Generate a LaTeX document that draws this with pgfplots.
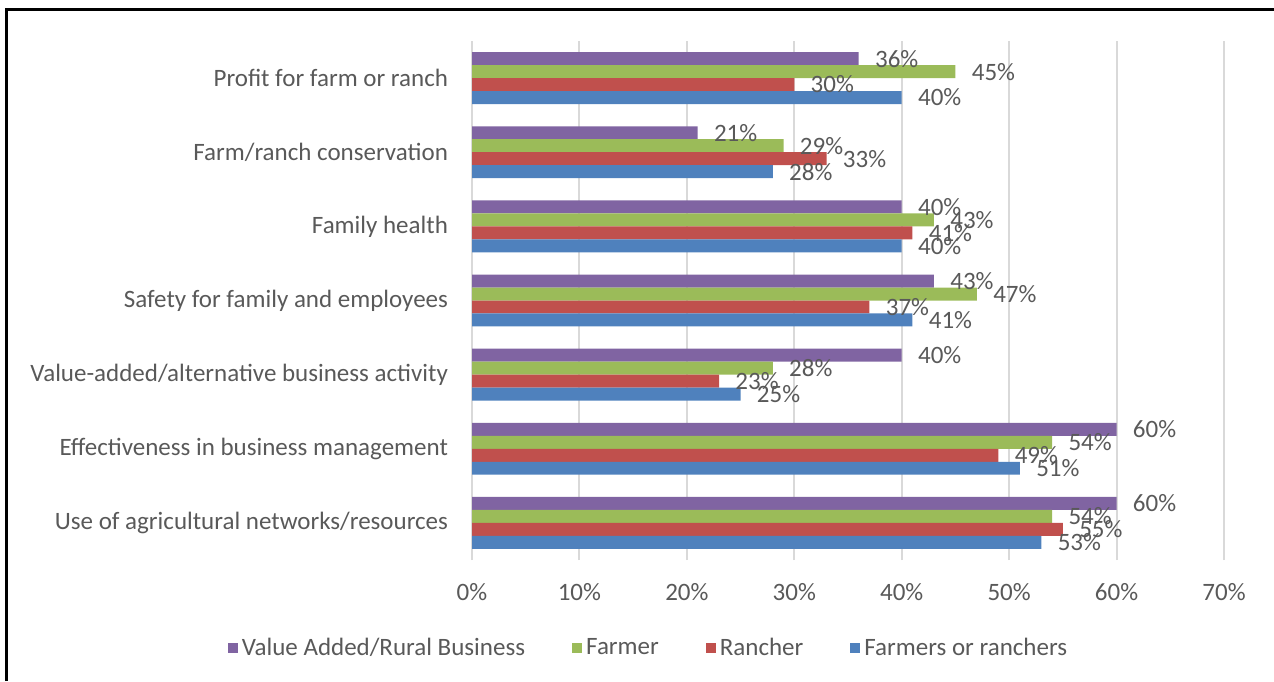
\documentclass[border=0pt]{standalone}
\usepackage{pgfplots}
\pgfplotsset{compat=1.18}
\usepackage{fontspec}
\setmainfont{Carlito}

\definecolor{cPurple}{HTML}{8064A2}
\definecolor{cGreen}{HTML}{9BBB59}
\definecolor{cRed}{HTML}{C0504D}
\definecolor{cBlue}{HTML}{4F81BD}
\definecolor{txt}{HTML}{595959}
\definecolor{grid}{HTML}{D9D9D9}

% categories bottom (0) to top (6)
% cols: rural, farmer, rancher, either
\pgfplotstableread{
y  rural farmer rancher either
0  60    54     55      53
1  60    54     49      51
2  40    28     23      25
3  43    47     37      41
4  40    43     41      40
5  21    29     33      28
6  36    45     30      40
}\datatable

\newcommand{\lbl}{\fontsize{12.5}{15}\selectfont}

\begin{document}
\begin{tikzpicture}
\useasboundingbox (0,0) rectangle (637pt,-340.5pt);
\draw[black, line width=1.5pt] (3pt,-340.5pt) -- (3pt,-4.5pt) -- (637pt,-4.5pt);
\begin{axis}[
  at={(236pt,-280pt)}, anchor=south west,
  scale only axis, width=376pt, height=259.5pt,
  xbar, bar width=0.175,
  xmin=0, xmax=70, ymin=-0.5, ymax=6.5,
  xtick={0,10,...,70},
  xticklabel={\pgfmathprintnumber{\tick}\%},
  ytick={0,...,6},
  yticklabels={Use of agricultural networks/resources,
    Effectiveness in business management,
    Value-added/alternative business activity,
    Safety for family and employees,
    Family health,
    Farm/ranch conservation,
    Profit for farm or ranch},
  /pgf/number format/assume math mode=true,
  axis line style={draw=none},
  major tick length=0pt,
  xmajorgrids, grid style={draw=grid, line width=1pt},
  tick label style={font=\lbl, text=txt},
  y tick label style={anchor=east, xshift=-8.5pt},
  x tick label style={anchor=base, yshift=-20pt},
  clip=false,
  nodes near coords={\pgfmathprintnumber{\pgfplotspointmeta}\%},
  every node near coord/.append style={font=\lbl, text=txt, anchor=west, inner sep=0pt, xshift=8pt},
  legend style={at={(0.236,-0.17)}, anchor=center, draw=none, fill=none,
    legend columns=4, font=\lbl, text=txt,
    /tikz/every even column/.append style={column sep=21.5pt}},
  legend image code/.code={\fill[#1] (0pt,-2.5pt) rectangle (5pt,2.5pt);},
]
\addplot[fill=cPurple, draw=none, bar shift=0.2625] table[x=rural, y=y] {\datatable};
\addplot[fill=cGreen, draw=none, bar shift=0.0875] table[x=farmer, y=y] {\datatable};
\addplot[fill=cRed, draw=none, bar shift=-0.0875] table[x=rancher, y=y] {\datatable};
\addplot[fill=cBlue, draw=none, bar shift=-0.2625] table[x=either, y=y] {\datatable};
\legend{Value Added/Rural Business, Farmer, Rancher, Farmers or ranchers}
\end{axis}
\end{tikzpicture}
\end{document}
